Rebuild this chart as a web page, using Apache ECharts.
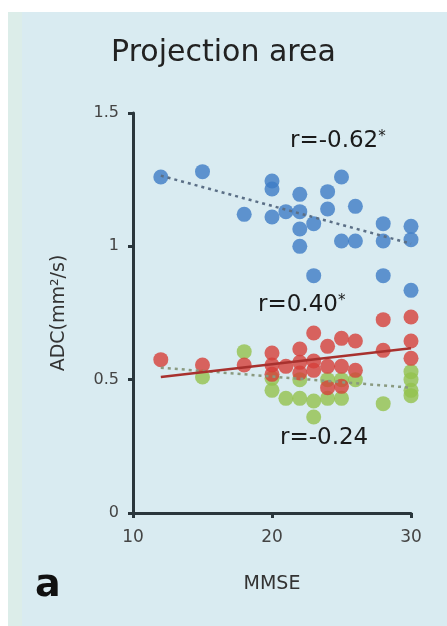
<!DOCTYPE html>
<html>
<head>
<meta charset="utf-8">
<script src="https://cdn.jsdelivr.net/npm/echarts@6/dist/echarts.min.js"></script>
<style>
  html, body { margin: 0; padding: 0; background: #fff; }
  #chart { width: 447px; height: 626px; }
</style>
</head>
<body>
<div id="chart"></div>
<script>
// MMSE vs ADC
var blueVals = [
  [12, 1.26], [15, 1.28], [18, 1.12], [20, 1.245], [20, 1.215], [20, 1.11],
  [21, 1.13], [22, 1.195], [22, 1.13], [22, 1.065], [22, 1.0], [23, 1.085],
  [23, 0.89], [24, 1.205], [24, 1.14], [25, 1.26], [25, 1.02], [26, 1.15],
  [26, 1.02], [28, 1.085], [28, 1.02], [28, 0.89], [30, 1.075], [30, 1.025],
  [30, 0.835]
];
var redVals = [
  [12, 0.575], [15, 0.555], [18, 0.555], [20, 0.6], [20, 0.555], [20, 0.52],
  [21, 0.55], [22, 0.615], [22, 0.565], [22, 0.525], [23, 0.675], [23, 0.57],
  [23, 0.535], [24, 0.625], [24, 0.55], [24, 0.47], [25, 0.655], [25, 0.55],
  [25, 0.475], [26, 0.645], [26, 0.535], [28, 0.725], [28, 0.61], [30, 0.735],
  [30, 0.645], [30, 0.58]
];
var greenVals = [
  [15, 0.51], [18, 0.605], [20, 0.505], [20, 0.46], [21, 0.43], [22, 0.43],
  [22, 0.5], [23, 0.42], [23, 0.36], [24, 0.43], [24, 0.5], [25, 0.43],
  [25, 0.5], [26, 0.5], [28, 0.41], [30, 0.53], [30, 0.5], [30, 0.46], [30, 0.44]
];
var blueTrend = [[12, 1.265], [30, 1.01]];
var redTrend = [[12, 0.51], [30, 0.618]];
var greenTrend = [[12, 0.545], [30, 0.47]];
var xTicks = [10, 20, 30];
var yTicks = [0, 0.5, 1, 1.5];

var axisColor = '#2a363c';
var chart = echarts.init(document.getElementById('chart'));

// r annotation with a small raised asterisk
function rLabel(left, top, txt, star) {
  return {
    type: 'text', left: left, top: top,
    style: {
      text: txt + (star ? '{s|*}' : ''),
      font: '23px "DejaVu Sans"', fill: '#1a1a1a',
      rich: { s: { fontFamily: 'DejaVu Sans', fontSize: 15, fill: '#1a1a1a', padding: [0, 0, 8, 0] } }
    }
  };
}

chart.setOption({
  backgroundColor: '#ffffff',
  animation: false,
  graphic: [
    { type: 'rect', z: -10, shape: { x: 8, y: 12, width: 439, height: 614 }, style: { fill: '#d9ebf1' } },
    { type: 'rect', z: -9, shape: { x: 8, y: 12, width: 14, height: 614 }, style: { fill: '#dcede9' } },
    { type: 'text', left: 'center', top: 38, style: { text: 'Projection area', font: '30px "DejaVu Sans"', fill: '#222' } },
    { type: 'text', left: 35, top: 567, style: { text: 'a', font: 'bold 38px "DejaVu Sans"', fill: '#111' } },
    rLabel(290, 130, 'r=-0.62', true),
    rLabel(258, 294, 'r=0.40', true),
    rLabel(280, 427, 'r=-0.24', false)
  ],
  grid: { left: 133, right: 36, top: 113, bottom: 113, containLabel: false },
  xAxis: {
    type: 'value',
    min: xTicks[0], max: xTicks[xTicks.length - 1], interval: 10,
    name: 'MMSE', nameLocation: 'middle', nameGap: 62,
    nameTextStyle: { fontFamily: 'DejaVu Sans', fontSize: 19, color: '#333' },
    axisLine: { show: true, lineStyle: { color: axisColor, width: 3 } },
    axisTick: { show: true, length: 5, lineStyle: { color: axisColor, width: 3 } },
    axisLabel: { fontFamily: 'DejaVu Sans', fontSize: 17, color: '#444', margin: 16 },
    splitLine: { show: false }
  },
  yAxis: {
    type: 'value',
    min: yTicks[0], max: yTicks[yTicks.length - 1], interval: 0.5,
    name: 'ADC(mm²/s)', nameLocation: 'middle', nameGap: 64, nameRotate: 90,
    nameTextStyle: { fontFamily: 'DejaVu Sans', fontSize: 19, color: '#333' },
    axisLine: { show: true, lineStyle: { color: axisColor, width: 3 } },
    axisTick: { show: true, length: 5, lineStyle: { color: axisColor, width: 3 } },
    axisLabel: { fontFamily: 'DejaVu Sans', fontSize: 16, color: '#444', margin: 14 },
    splitLine: { show: false }
  },
  series: [
    { type: 'scatter', data: blueVals, symbolSize: 15, itemStyle: { color: '#3d7cc6' }, z: 2 },
    { type: 'scatter', data: greenVals, symbolSize: 15, itemStyle: { color: '#93c24e' }, z: 2 },
    { type: 'scatter', data: redVals, symbolSize: 15, itemStyle: { color: '#d6403a' }, z: 3 },
    { type: 'line', data: blueTrend, symbol: 'none', lineStyle: { color: '#5b6f86', width: 2.5, type: [3, 4] }, z: 4 },
    { type: 'line', data: greenTrend, symbol: 'none', lineStyle: { color: '#8a9a80', width: 2.5, type: [3, 4] }, z: 4 },
    { type: 'line', data: redTrend, symbol: 'none', lineStyle: { color: '#a8312e', width: 2.5 }, z: 5 }
  ]
});
</script>
</body>
</html>
